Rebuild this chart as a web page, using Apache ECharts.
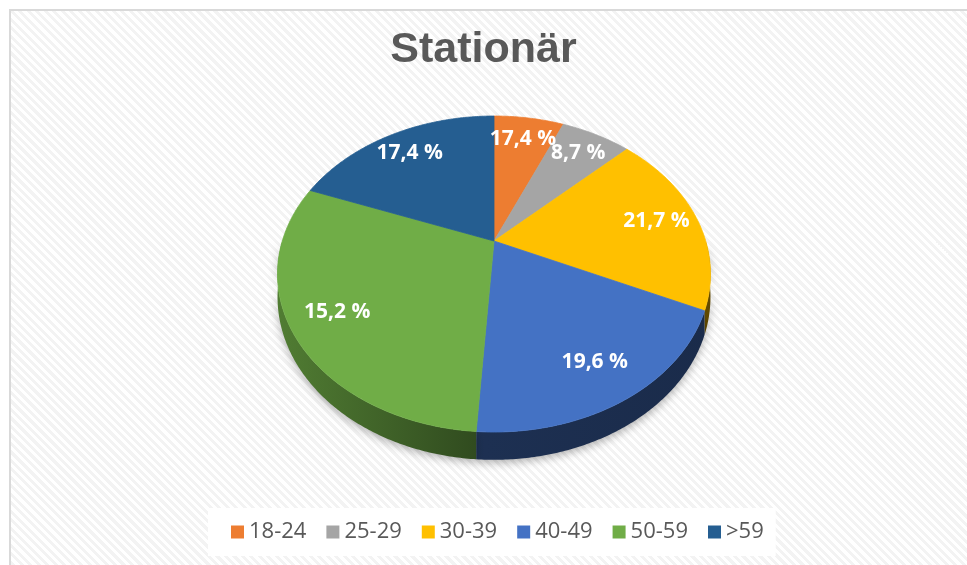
<!DOCTYPE html>
<html>
<head>
<meta charset="utf-8">
<script src="https://cdn.jsdelivr.net/npm/echarts@6/dist/echarts.min.js"></script>
<style>
  html, body { margin: 0; padding: 0; background: #fff; }
  #frame {
    position: absolute; left: 9px; top: 9px; width: 1000px; height: 600px;
    border-left: 2px solid #d9d9d9; border-top: 2px solid #d9d9d9;
    background: repeating-linear-gradient(45deg, #ffffff 0px, #ffffff 3px, #f3f3f3 3px, #f3f3f3 6px);
  }
  #chart { position: absolute; left: 0; top: 0; width: 967px; height: 565px; }
</style>
</head>
<body>
<div id="frame"></div>
<div id="chart"></div>
<script>
// Altersgruppen
var categories = ['18-24', '25-29', '30-39', '40-49', '50-59', '>59'];
var values = [3, 3, 9, 9, 14, 9];
// Beschriftungen wie im Original
var labelTexts = ['17,4 %', '8,7 %', '21,7 %', '19,6 %', '15,2 %', '17,4 %'];

var colors = ['#ED7D31', '#A5A5A5', '#FFC000', '#4472C4', '#70AD47', '#255E91'];

// einfache perspektivische Projektion der Kreisscheibe
var CX = 494, CY = 241, RX = 211.7, RY = 151.1, PERSP = 0.209, DEPTH = 22;

function project(theta, r, drop) {
  var u = r * Math.sin(theta), v = r * Math.cos(theta);
  var w = 1 + PERSP * v;
  return [CX + RX * u / w, CY - RY * v / w + drop / w];
}

function shade(hex, f) {
  var n = parseInt(hex.slice(1), 16);
  var r = Math.round(((n >> 16) & 255) * f), g = Math.round(((n >> 8) & 255) * f), b = Math.round((n & 255) * f);
  return 'rgb(' + r + ',' + g + ',' + b + ')';
}

function sideFill(hex) {
  return new echarts.graphic.LinearGradient(CX - RX * 1.03, 0, CX + RX * 1.03, 0, [
    { offset: 0, color: shade(hex, 0.72) },
    { offset: 0.48, color: shade(hex, 0.42) },
    { offset: 1, color: shade(hex, 0.38) }
  ], true);
}

function sliceRenderer(idx) {
  return function (params, api) {
    var total = 0, before = 0;
    for (var j = 0; j < values.length; j++) {
      total += values[j];
      if (j < idx) before += values[j];
    }
    var a0 = before / total * Math.PI * 2;
    var a1 = (before + api.value(0)) / total * Math.PI * 2;
    var children = [];

    // Seitenwand, nur vordere Hälfte
    var f0 = Math.max(a0, Math.PI / 2), f1 = Math.min(a1, Math.PI * 1.5);
    if (f1 > f0) {
      var upper = [], lower = [];
      var n = Math.max(2, Math.ceil((f1 - f0) / 0.01));
      for (var s = 0; s <= n; s++) {
        var t = f0 + (f1 - f0) * s / n;
        upper.push(project(t, 1, 0));
        lower.unshift(project(t, 1, DEPTH));
      }
      children.push({
        type: 'polygon', z2: 1,
        shape: { points: upper.concat(lower) },
        style: { fill: sideFill(colors[idx]), shadowBlur: 8, shadowColor: 'rgba(0,0,0,0.3)', shadowOffsetY: 3 }
      });
    }

    // Oberseite
    var top = [project(0, 0, 0)];
    var m = Math.max(2, Math.ceil((a1 - a0) / 0.01));
    for (var k = 0; k <= m; k++) top.push(project(a0 + (a1 - a0) * k / m, 1, 0));
    children.push({
      type: 'polygon', z2: 5,
      shape: { points: top },
      style: { fill: colors[idx], stroke: colors[idx], lineWidth: 0.8 }
    });

    // Beschriftung
    var p = project((a0 + a1) / 2, 0.8, 0);
    children.push({
      type: 'text', z2: 10, x: p[0], y: p[1],
      style: {
        text: labelTexts[idx], fill: '#fff', font: 'bold 21px "Open Sans"',
        align: 'center', verticalAlign: 'middle'
      }
    });
    return { type: 'group', children: children };
  };
}

var myChart = echarts.init(document.getElementById('chart'));
var option = {
  backgroundColor: 'transparent',
  animation: false,
  title: {
    text: 'Stationär',
    left: 'center',
    top: 24,
    textStyle: { fontSize: 43, fontWeight: 'bold', color: '#595959', fontFamily: 'Liberation Sans' }
  },
  legend: {
    data: categories,
    left: 208,
    top: 508,
    padding: [13, 12, 13, 23],
    backgroundColor: '#fff',
    icon: 'rect',
    itemWidth: 13,
    itemHeight: 13,
    itemGap: 20,
    textStyle: { fontSize: 22, color: '#595959', fontFamily: 'Open Sans' }
  },
  series: categories.map(function (name, i) {
    return {
      type: 'custom',
      name: name,
      coordinateSystem: 'none',
      silent: true,
      itemStyle: { color: colors[i] },
      renderItem: sliceRenderer(i),
      data: [[values[i]]]
    };
  })
};
myChart.setOption(option);
</script>
</body>
</html>
